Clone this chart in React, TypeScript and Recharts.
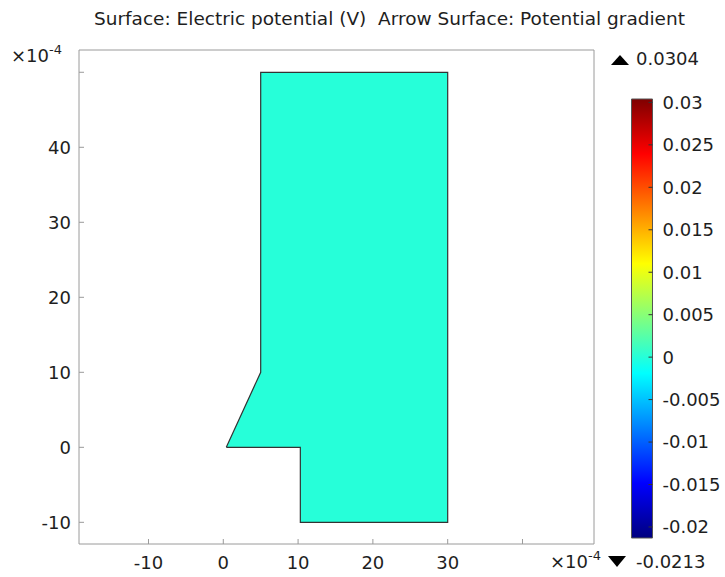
import { Area, ComposedChart, ReferenceArea, Scatter, XAxis, YAxis } from "recharts";

// axes, in units of 1e-4
const xTicks = [-10, 0, 10, 20, 30, 40];
const yTicks = [-10, 0, 10, 20, 30, 40, 50];
const xDomain = [-19.29, 49.56];
const yDomain = [-12.89, 52.97];

// filled geometry: lower and upper bound for each x
const domainX = [0.4, 5, 5, 10.3, 10.3, 30];
const domainLow = [0, 0, 0, 0, -10, -10];
const domainHigh = [0, 10, 50, 50, 50, 50];

// boundary, in drawing order
const edgeX = [0.4, 5, 5, 30, 30, 10.3, 10.3, 0.4];
const edgeY = [0, 10, 50, 50, -10, -10, 0, 0];

// color legend
const colorTicks = [0.03, 0.025, 0.02, 0.015, 0.01, 0.005, 0, -0.005, -0.01, -0.015, -0.02];
const colorMin = -0.0213;
const colorMax = 0.0304;
const jetOffsets = [0, 0.125, 0.375, 0.625, 0.875, 1];
const jetColors = ["#7f0000", "#ff0000", "#ffff00", "#00ffff", "#0000ff", "#00007f"];

const domainData = domainX.map((x, i) => ({ x, range: [domainLow[i], domainHigh[i]] }));
const edgeData = edgeX.map((x, i) => ({ x, y: edgeY[i] }));
const colorData = [
  { x: 0, v: colorMin },
  { x: 1, v: colorMax }
];

const FRAME = "#9a9a9a";
const TEXT = "#1e1e1e";
const tickStyle = { fill: TEXT, fontSize: 18 };

export default function App() {
  return (
    <div
      style={{
        position: "absolute",
        left: 0,
        top: 0,
        width: 725,
        height: 577,
        background: "#fff",
        fontFamily: "'DejaVu Sans', sans-serif"
      }}
    >
      <div style={{ position: "absolute", left: 0, top: 0 }}>
        <ComposedChart width={725} height={577} data={domainData} margin={{ top: 20, right: 0, bottom: 0, left: 0 }}>
          <XAxis
            xAxisId="b"
            type="number"
            dataKey="x"
            domain={xDomain}
            ticks={xTicks}
            interval={0}
            allowDataOverflow
            height={33}
            tickSize={-5}
            tickMargin={17}
            stroke={FRAME}
            tick={tickStyle}
            tickFormatter={(v: number) => (v === 40 ? "" : String(v))}
          />
          <XAxis
            xAxisId="t"
            orientation="top"
            type="number"
            dataKey="x"
            domain={xDomain}
            ticks={xTicks}
            interval={0}
            allowDataOverflow
            height={30}
            tickSize={-5}
            stroke={FRAME}
            tick={false}
          />
          <YAxis
            yAxisId="l"
            type="number"
            domain={yDomain}
            ticks={yTicks}
            interval={0}
            allowDataOverflow
            width={79}
            tickSize={-5}
            tickMargin={13}
            stroke={FRAME}
            tick={tickStyle}
            tickFormatter={(v: number) => (v === 50 ? "" : String(v))}
          />
          <YAxis
            yAxisId="r"
            orientation="right"
            type="number"
            domain={yDomain}
            ticks={yTicks}
            interval={0}
            allowDataOverflow
            width={131}
            tickSize={-5}
            stroke={FRAME}
            tick={false}
          />
          <Area
            xAxisId="b"
            yAxisId="l"
            dataKey="range"
            type="linear"
            stroke="none"
            fill="#26ffd9"
            fillOpacity={1}
            isAnimationActive={false}
          />
          <Scatter
            xAxisId="b"
            yAxisId="l"
            data={edgeData}
            dataKey="y"
            line={{ stroke: "#333", strokeWidth: 1.2 }}
            lineType="joint"
            shape={() => <g />}
            isAnimationActive={false}
          />
        </ComposedChart>
      </div>

      <div style={{ position: "absolute", left: 600, top: 0 }}>
        <ComposedChart width={125} height={577} data={colorData} margin={{ top: 99, right: 0, bottom: 39, left: 30.5 }}>
          <defs>
            <linearGradient id="jet" x1="0" y1="0" x2="0" y2="1">
              {jetOffsets.map((o, i) => (
                <stop key={o} offset={o} stopColor={jetColors[i]} />
              ))}
            </linearGradient>
          </defs>
          <XAxis type="number" dataKey="x" domain={[0, 1]} hide />
          <YAxis
            yAxisId="l"
            type="number"
            dataKey="v"
            domain={[colorMin, colorMax]}
            ticks={colorTicks}
            interval={0}
            allowDataOverflow
            width={1}
            tickSize={-4}
            axisLine={false}
            stroke="#333"
            tick={false}
          />
          <YAxis
            yAxisId="r"
            orientation="right"
            type="number"
            dataKey="v"
            domain={[colorMin, colorMax]}
            ticks={colorTicks}
            interval={0}
            allowDataOverflow
            width={72.5}
            tickSize={-4}
            tickMargin={14}
            axisLine={false}
            stroke="#333"
            tick={{ ...tickStyle, textAnchor: "start" }}
          />
          <ReferenceArea
            yAxisId="r"
            y1={colorMin}
            y2={colorMax}
            fill="url(#jet)"
            fillOpacity={1}
            stroke="#555"
            strokeWidth={1}
          />
        </ComposedChart>
      </div>

      <svg
        width={725}
        height={577}
        style={{ position: "absolute", left: 0, top: 0, pointerEvents: "none" }}
      >
        <text x={389.5} y={25} textAnchor="middle" fontSize={18.5} fill={TEXT}>
          {"Surface: Electric potential (V)\u00a0 Arrow Surface: Potential gradient"}
        </text>
        <text x={11} y={62} fontSize={18} fill={TEXT}>
          ×10<tspan fontSize={13} dy={-8}>-4</tspan>
        </text>
        <text x={550} y={568} fontSize={18} fill={TEXT}>
          ×10<tspan fontSize={13} dy={-8}>-4</tspan>
        </text>
        <polygon points="611,65 629,65 620,55" fill="#000" />
        <text x={636} y={65} fontSize={18} fill={TEXT}>
          {colorMax}
        </text>
        <polygon points="608,556 626,556 617,567" fill="#000" />
        <text x={636} y={568} fontSize={18} fill={TEXT}>
          {colorMin}
        </text>
      </svg>
    </div>
  );
}
